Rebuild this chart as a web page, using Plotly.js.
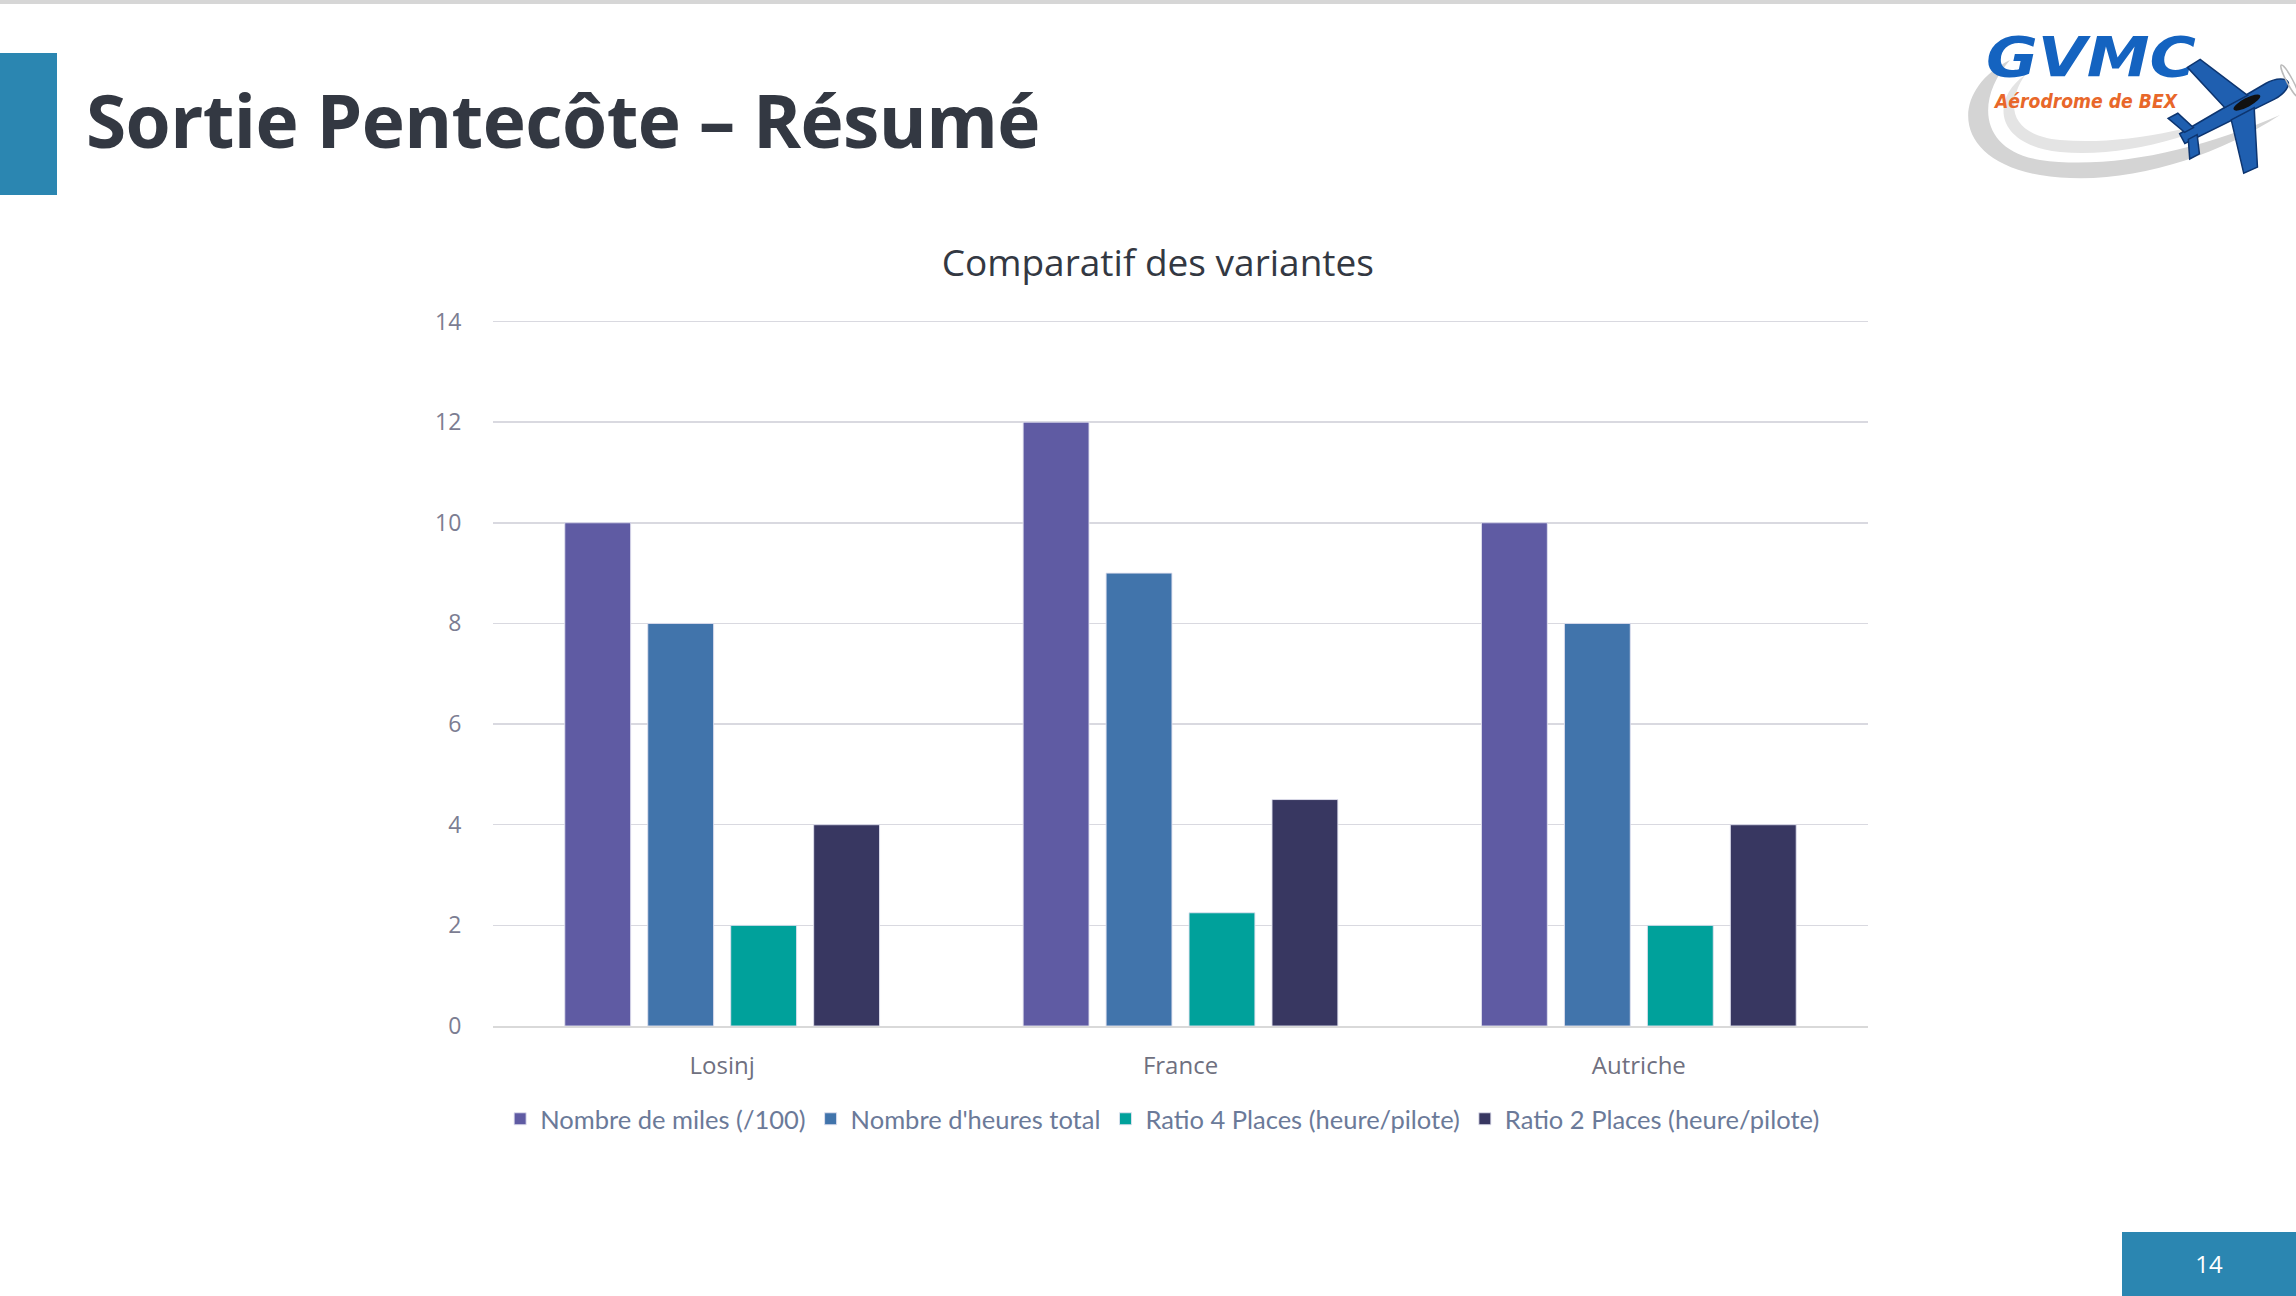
<!DOCTYPE html>
<html>
<head>
<meta charset="utf-8">
<script src="https://cdn.plot.ly/plotly-3.0.1.min.js"></script>
<style>
  html, body { margin: 0; padding: 0; background: #fff; }
  #slide { position: relative; width: 2296px; height: 1296px; overflow: hidden; font-family: 'Open Sans', sans-serif; }
  #topline { position: absolute; left: 0; top: 0; width: 2296px; height: 4px; background: #d6d6d6; }
  #accent { position: absolute; left: 0; top: 53px; width: 57px; height: 142px; background: #2b86b1; }
  #heading { position: absolute; left: 86px; top: 70px; font-size: 73px; font-weight: 700; color: #333842; letter-spacing: -0.6px; white-space: nowrap; }
  #pagebox { position: absolute; left: 2122px; top: 1232px; width: 174px; height: 64px; background: #2b86b1; color: #fff; font-size: 24px; line-height: 64px; text-align: center; }
  #logo { position: absolute; left: 1950px; top: 20px; width: 346px; height: 165px; }
  #plot { position: absolute; left: 0; top: 0; width: 2296px; height: 1296px; }
</style>
</head>
<body>
<div id="slide">
  <div id="plot"></div>
  <div id="topline"></div>
  <div id="accent"></div>
  <div id="heading">Sortie Pentecôte – Résumé</div>
  <svg id="logo" viewBox="0 0 346 165">
    <!-- grey swoosh -->
    <path d="M60,40 C0,70 0,140 90,155 C170,168 260,140 330,95 C250,130 160,150 90,140 C30,130 25,80 60,40 Z" fill="#d4d4d4"/>
    <path d="M75,55 C40,80 45,125 110,132 C180,138 250,115 320,80 C245,112 170,125 110,120 C60,115 55,85 75,55 Z" fill="#e4e4e4"/>
    <text x="36" y="70" font-family="DejaVu Sans" font-weight="bold" font-style="italic" font-size="70" fill="#1463c0" transform="scale(1,0.8)" textLength="210" lengthAdjust="spacingAndGlyphs">GVMC</text>
    <text x="45" y="88" font-family="DejaVu Sans Condensed, DejaVu Sans" font-weight="bold" font-style="italic" font-size="19" fill="#e8672a" textLength="182" lengthAdjust="spacingAndGlyphs">Aérodrome de BEX</text>
    <!-- plane -->
    <g transform="translate(285,90) rotate(-28)">
      <path d="M-60,-5 L40,-9 C52,-9 60,-4 60,0 C60,4 52,9 40,9 L-60,6 Z" fill="#1f5fb0" stroke="#0d3570" stroke-width="1.5"/>
      <path d="M-8,-7 L-22,-60 L-7,-61 L18,-7 Z" fill="#1f5fb0" stroke="#0d3570" stroke-width="1.5"/>
      <path d="M-8,7 L-22,60 L-7,61 L18,7 Z" fill="#1f5fb0" stroke="#0d3570" stroke-width="1.5"/>
      <path d="M-55,-4 L-63,-24 L-52,-24 L-45,-4 Z" fill="#1f5fb0" stroke="#0d3570" stroke-width="1.5"/>
      <path d="M-55,4 L-63,22 L-52,22 L-45,4 Z" fill="#1f5fb0" stroke="#0d3570" stroke-width="1.5"/>
      <ellipse cx="14" cy="-1" rx="15" ry="4.5" fill="#111"/>
      <ellipse cx="62" cy="0" rx="3" ry="18" fill="none" stroke="#bbb" stroke-width="1.5"/>
    </g>
  </svg>
  <div id="pagebox">14</div>
</div>
<script>
'use strict';

// chart data
const categories = ['Losinj', 'France', 'Autriche'];
const seriesNames = [
  'Nombre de miles (/100)',
  "Nombre d'heures total",
  'Ratio 4 Places (heure/pilote)',
  'Ratio 2 Places (heure/pilote)'
];
const milesValues = [10, 12, 10];
const heuresValues = [8, 9, 8];
const ratio4Values = [2, 2.25, 2];
const ratio2Values = [4, 4.5, 4];
const yTicks = [0, 2, 4, 6, 8, 10, 12, 14];

const seriesColors = ['#5f5ba3', '#4174ab', '#00a19b', '#383761'];
const allValues = [milesValues, heuresValues, ratio4Values, ratio2Values];

var traces = allValues.map(function (vals, i) {
  return {
    type: 'bar',
    name: seriesNames[i],
    x: categories,
    y: vals,
    marker: {
      color: seriesColors[i],
      line: {color: 'rgba(225,225,240,0.9)', width: 1}
    },
    hoverinfo: 'skip'
  };
});

var layout = {
  width: 2296,
  height: 1296,
  paper_bgcolor: 'rgba(0,0,0,0)',
  plot_bgcolor: 'rgba(0,0,0,0)',
  margin: {l: 493, r: 428, t: 320, b: 270},
  barmode: 'group',
  bargap: 0.276,
  bargroupgap: 0.206,
  font: {family: 'Open Sans, sans-serif', color: '#707084'},
  title: {
    text: 'Comparatif des variantes',
    font: {size: 37, color: '#333842', family: 'Open Sans, sans-serif'},
    x: 0.4835,
    xanchor: 'center',
    xref: 'paper',
    y: 1 - 263 / 1296,
    yanchor: 'middle'
  },
  xaxis: {
    showgrid: false,
    showline: true,
    linecolor: '#d9d9d9',
    linewidth: 1.5,
    ticks: 'outside',
    ticklen: 18,
    tickcolor: 'rgba(0,0,0,0)',
    tickfont: {size: 24, color: '#6f7080'},
    fixedrange: true
  },
  yaxis: {
    range: [0, 14.03],
    tickvals: yTicks,
    showgrid: true,
    gridcolor: '#d9d9e0',
    gridwidth: 1.5,
    zeroline: false,
    showline: false,
    ticks: 'outside',
    ticklen: 26,
    tickcolor: 'rgba(0,0,0,0)',
    tickfont: {size: 23, color: '#7c7d92'},
    fixedrange: true
  },
  showlegend: true,
  legend: {
    orientation: 'h',
    x: 0.487,
    xanchor: 'center',
    y: -0.132,
    yanchor: 'middle',
    font: {size: 25.5, color: '#6b7a99', family: 'Lato, sans-serif'},
    itemwidth: 30,
    tracegroupgap: 0
  }
};

var config = {
  responsive: false,
  displayModeBar: false,
  staticPlot: true
};

Plotly.newPlot('plot', traces, layout, config);
</script>
</body>
</html>
